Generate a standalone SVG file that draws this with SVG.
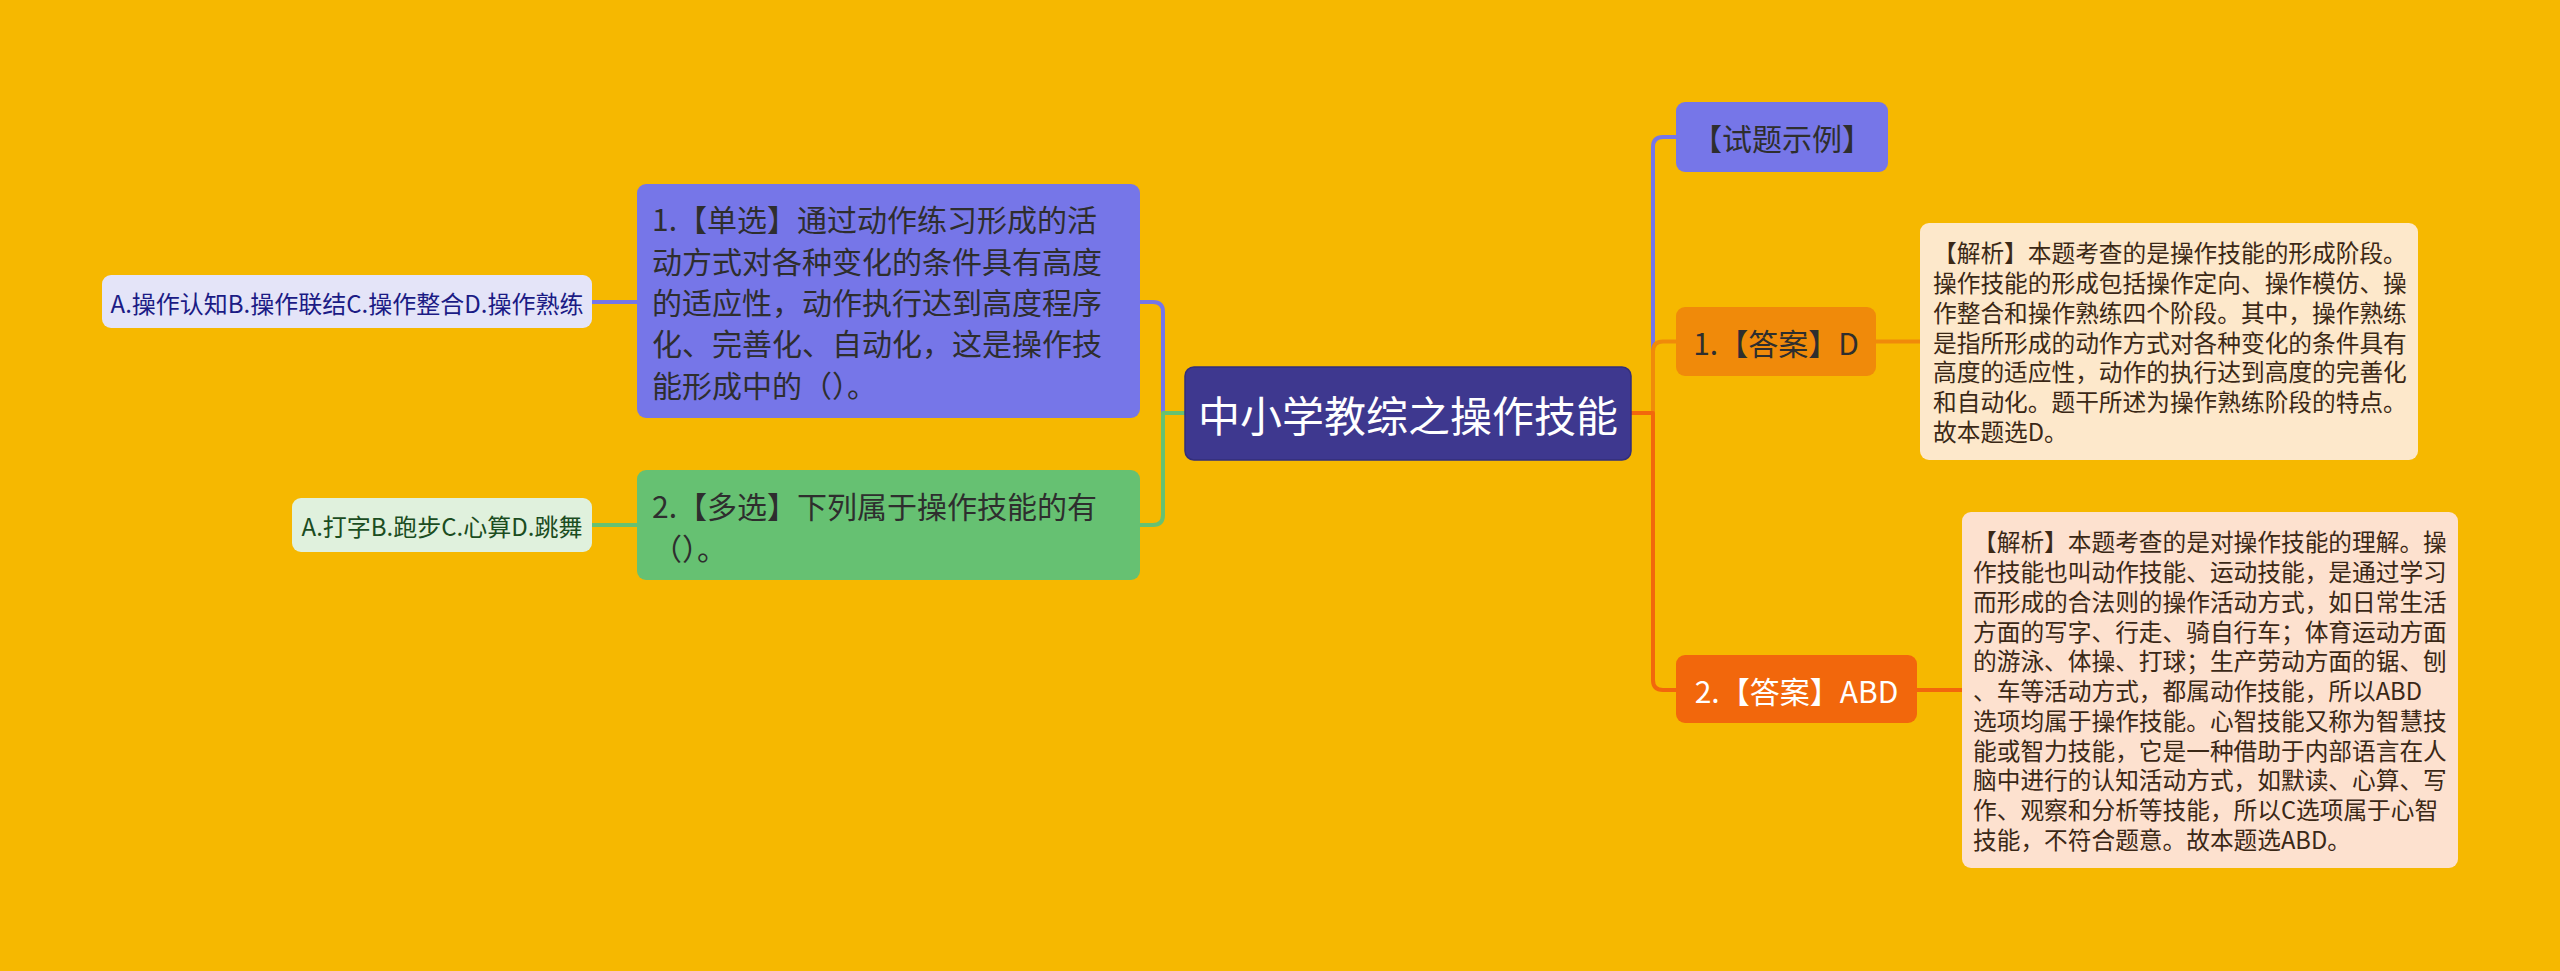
<svg xmlns="http://www.w3.org/2000/svg" width="2560" height="971" viewBox="0 0 2560 971">
<style>
text{font-family:"Noto Sans CJK SC","Noto Sans",sans-serif;dominant-baseline:central}
.c{fill:none;stroke-width:4;stroke-linejoin:round}
.pu{stroke:#7676e8}.gr{stroke:#66c172}.or{stroke:#f08a0a}.rd{stroke:#f2670c}
.t30{font-size:30px;fill:#2e2e2e}
.ex{font-size:23.7px;fill:#3b2816}
</style>
<rect width="2560" height="971" fill="#f6b800"/>
<g id="connectors">
<path class="c pu" d="M1185,413 H1163 V312 Q1163,302 1153,302 H1140"/>
<path class="c gr" d="M1185,413 H1163 V515 Q1163,525 1153,525 H1140"/>
<path class="c pu" d="M637,302 H592"/>
<path class="c gr" d="M637,525 H592"/>
<path class="c pu" d="M1631,413 H1653 V147 Q1653,137 1663,137 H1676"/>
<path class="c or" d="M1631,413 H1653 V351.5 Q1653,341.5 1663,341.5 H1676"/>
<path class="c rd" d="M1631,413 H1653 V680 Q1653,690 1663,690 H1676"/>
<path class="c or" d="M1876,341.5 H1920"/>
<path class="c rd" d="M1917,690 H1962"/>
</g>
<g id="root">
<rect x="1185" y="367" width="446" height="93" rx="9" fill="#3e388f" stroke="#332e7a" stroke-width="1.5"/>
<text x="1408" y="413.5" font-size="42" fill="#ffffff" text-anchor="middle">中小学教综之操作技能</text>
</g>
<g id="q1">
<rect x="637" y="184" width="503" height="234" rx="9" fill="#7676e8"/>
<text class="t30" x="652"><tspan x="652" y="218.4">1.【单选】通过动作练习形成的活</tspan><tspan x="652" y="259.7">动方式对各种变化的条件具有高度</tspan><tspan x="652" y="301">的适应性，动作执行达到高度程序</tspan><tspan x="652" y="342.3">化、完善化、自动化，这是操作技</tspan><tspan x="652" y="383.6">能形成中的（）。</tspan></text>
</g>
<g id="q2">
<rect x="637" y="470" width="503" height="110" rx="9" fill="#66c172"/>
<text class="t30" x="652"><tspan x="652" y="505">2.【多选】下列属于操作技能的有</tspan><tspan x="652" y="546.5">（）。</tspan></text>
</g>
<g id="a1">
<rect x="102" y="275" width="490" height="53" rx="9" fill="#e4e4f8"/>
<text x="347" y="302" font-size="24" fill="#1b1b85" text-anchor="middle">A.操作认知B.操作联结C.操作整合D.操作熟练</text>
</g>
<g id="a2">
<rect x="292" y="498" width="300" height="54" rx="9" fill="#e0f1dd"/>
<text x="442" y="525" font-size="24" fill="#1b4d1f" text-anchor="middle">A.打字B.跑步C.心算D.跳舞</text>
</g>
<g id="example">
<rect x="1676" y="102" width="212" height="70" rx="9" fill="#7676e8"/>
<text class="t30" x="1782" y="137" text-anchor="middle">【试题示例】</text>
</g>
<g id="ans1">
<rect x="1676" y="307" width="200" height="69" rx="9" fill="#f08a0a"/>
<text class="t30" x="1776" y="341.5" text-anchor="middle">1.【答案】D</text>
</g>
<g id="exp1">
<rect x="1920" y="223" width="498" height="237" rx="9" fill="#fde8cb"/>
<text class="ex" x="1933"><tspan x="1933" y="252.3">【解析】本题考查的是操作技能的形成阶段。</tspan><tspan x="1933" y="282">操作技能的形成包括操作定向、操作模仿、操</tspan><tspan x="1933" y="311.8">作整合和操作熟练四个阶段。其中，操作熟练</tspan><tspan x="1933" y="341.5">是指所形成的动作方式对各种变化的条件具有</tspan><tspan x="1933" y="371.3">高度的适应性，动作的执行达到高度的完善化</tspan><tspan x="1933" y="401">和自动化。题干所述为操作熟练阶段的特点。</tspan><tspan x="1933" y="430.8">故本题选D。</tspan></text>
</g>
<g id="ans2">
<rect x="1676" y="655" width="241" height="68" rx="9" fill="#f2670c"/>
<text x="1796.5" y="689.5" font-size="30" fill="#ffffff" text-anchor="middle">2.【答案】ABD</text>
</g>
<g id="exp2">
<rect x="1962" y="512" width="496" height="356" rx="9" fill="#fde1cf"/>
<text class="ex" x="1973"><tspan x="1973" y="541.3">【解析】本题考查的是对操作技能的理解。操</tspan><tspan x="1973" y="571">作技能也叫动作技能、运动技能，是通过学习</tspan><tspan x="1973" y="600.8">而形成的合法则的操作活动方式，如日常生活</tspan><tspan x="1973" y="630.5">方面的写字、行走、骑自行车；体育运动方面</tspan><tspan x="1973" y="660.3">的游泳、体操、打球；生产劳动方面的锯、刨</tspan><tspan x="1973" y="690">、车等活动方式，都属动作技能，所以ABD</tspan><tspan x="1973" y="719.8">选项均属于操作技能。心智技能又称为智慧技</tspan><tspan x="1973" y="749.5">能或智力技能，它是一种借助于内部语言在人</tspan><tspan x="1973" y="779.3">脑中进行的认知活动方式，如默读、心算、写</tspan><tspan x="1973" y="809">作、观察和分析等技能，所以C选项属于心智</tspan><tspan x="1973" y="838.8">技能，不符合题意。故本题选ABD。</tspan></text>
</g>
</svg>
